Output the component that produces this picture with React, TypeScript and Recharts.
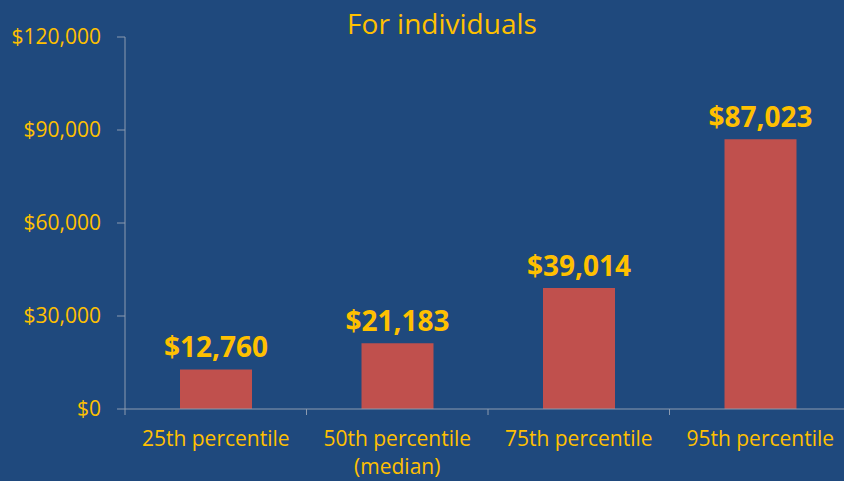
import React from "react";
import { BarChart, Bar, XAxis, YAxis, LabelList } from "recharts";

const categories = ["25th percentile", "50th percentile\n(median)", "75th percentile", "95th percentile"];
const incomes = [12760, 21183, 39014, 87023];
const yTicks = [0, 30000, 60000, 90000, 120000];

const data = categories.map((c, i) => ({ name: c, value: incomes[i] }));

const GOLD = "#FFC000";
const AXIS = "#8C9BB0";
const FONT = "'Open Sans', 'Noto Sans', sans-serif";

const money = (v: number) => "$" + v.toLocaleString("en-US");

// Excel style: tick marks sit between categories, labels at centre
function CategoryTick(props: any) {
  const { x, y, payload, index, visibleTicksCount } = props;
  const half = 181.5 / 2;
  const lines = String(payload.value).split("\n");
  return (
    <g>
      <line x1={x - half} x2={x - half} y1={y} y2={y + 6} stroke={AXIS} />
      {index === visibleTicksCount - 1 && <line x1={x + half} x2={x + half} y1={y} y2={y + 6} stroke={AXIS} />}
      <text x={x} y={y + 37} textAnchor="middle" fill={GOLD} fontSize={21} fontFamily={FONT}>
        {lines.map((l, i) => (
          <tspan key={i} x={x} dy={i === 0 ? 0 : 28}>{l}</tspan>
        ))}
      </text>
    </g>
  );
}

export default function App() {
  return (
    <div style={{ position: "absolute", left: 0, top: 0, width: 844, height: 481, background: "#1F497D", overflow: "hidden" }}>
      <div style={{ position: "absolute", left: 0, width: 884, top: 4, textAlign: "center", color: GOLD, fontFamily: FONT, fontSize: 28 }}>
        For individuals
      </div>
      <BarChart width={851} height={481} data={data} margin={{ top: 37, right: 0, left: 0, bottom: 0 }}>
        <YAxis
          width={125}
          domain={[0, 120000]}
          ticks={yTicks}
          tickFormatter={money}
          tick={{ fill: GOLD, fontSize: 21, fontFamily: FONT }}
          stroke={AXIS}
          tickSize={8}
          tickMargin={16}
        />
        <XAxis
          dataKey="name"
          height={72}
          stroke={AXIS}
          tickLine={false}
          tickSize={0}
          tickMargin={0}
          interval={0}
          tick={<CategoryTick />}
        />
        <Bar dataKey="value" fill="#C0504D" barSize={72} isAnimationActive={false}>
          <LabelList
            dataKey="value"
            position="top"
            offset={12}
            formatter={(v: any) => money(Number(v))}
            style={{ fill: GOLD, fontSize: 28, fontWeight: 700, fontFamily: FONT }}
          />
        </Bar>
      </BarChart>
    </div>
  );
}
